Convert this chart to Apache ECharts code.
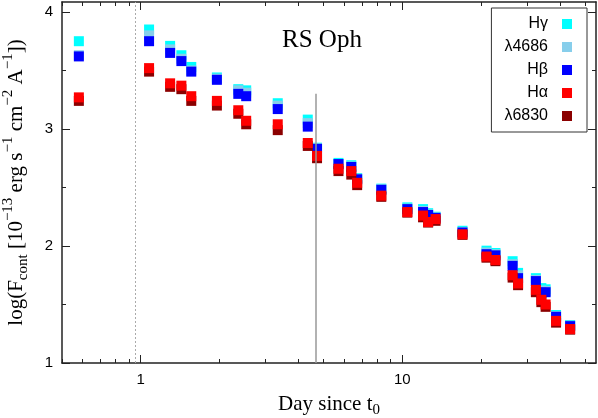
<!DOCTYPE html>
<html>
<head>
<meta charset="utf-8">
<script src="https://cdn.jsdelivr.net/npm/echarts@6/dist/echarts.min.js"></script>
<style>
  html, body { margin: 0; padding: 0; background: #fff; }
  #chart { width: 598px; height: 418px; }
</style>
</head>
<body>
<div id="chart"></div>
<script>
// days since t0
var days = [0.58, 1.076, 1.295, 1.43, 1.56, 1.955, 2.36, 2.53, 3.34, 4.35, 4.72, 5.70, 6.38, 6.72, 8.31,
	10.45, 12.0, 12.55, 13.4, 16.98, 20.98, 22.7, 26.4, 27.7, 32.4, 34.0, 35.3, 38.7, 43.8];
// log of continuum flux, one list per line
var hGamma = [3.75, 3.85, 3.71, 3.63, 3.53, 3.44, 3.34, 3.33, 3.22, 3.08, 2.84, 2.71, 2.69, 2.58, 2.49,
	2.33, 2.315, 2.28, 2.25, 2.13, 1.96, 1.94, 1.87, 1.77, 1.725, 1.64, 1.63, 1.41, 1.325];
var he4686 = [3.63, 3.80, 3.68, 3.60, 3.50, 3.43, 3.33, 3.31, 3.20, 3.05, 2.835, 2.70, 2.68, 2.575, 2.485,
	2.32, 2.30, 2.27, 2.245, 2.12, 1.945, 1.93, 1.845, 1.75, 1.71, 1.62, 1.615, 1.40, 1.32];
var hBeta = [3.62, 3.75, 3.65, 3.58, 3.49, 3.42, 3.30, 3.28, 3.17, 3.02, 2.83, 2.70, 2.675, 2.57, 2.48,
	2.315, 2.29, 2.265, 2.24, 2.115, 1.93, 1.92, 1.83, 1.725, 1.70, 1.60, 1.605, 1.395, 1.315];
var hAlpha = [3.27, 3.52, 3.39, 3.37, 3.28, 3.24, 3.16, 3.07, 3.04, 2.88, 2.77, 2.66, 2.64, 2.54, 2.43,
	2.29, 2.26, 2.205, 2.23, 2.10, 1.91, 1.88, 1.75, 1.68, 1.625, 1.54, 1.50, 1.36, 1.29];
var l6830 = [3.24, 3.49, 3.36, 3.34, 3.24, 3.20, 3.13, 3.04, 2.99, 2.855, 2.75, 2.64, 2.61, 2.52, 2.42,
	2.285, 2.245, 2.20, 2.215, 2.095, 1.90, 1.87, 1.73, 1.665, 1.605, 1.52, 1.48, 1.345, 1.285];

var xMajorTicks = [1, 10];
var xMinorTicks = [0.5, 0.6, 0.7, 0.8, 0.9, 2, 3, 4, 5, 6, 7, 8, 9, 20, 30, 40, 50];
var yMajorTicks = [1, 2, 3, 4];
var yMinorTicks = [1.5, 2.5, 3.5];
var dayMin = 0.5, dayMax = 55;
var fluxMin = 1, fluxMax = 4.085;
var dottedDay = 0.95;
var solidDay = 4.68, solidTop = 3.3;

var lg = function(v) { return Math.log10(v); };

var lines = [
	{ name: 'Hγ', values: hGamma, color: '#00ffff' },
	{ name: 'λ4686', values: he4686, color: '#87ceeb' },
	{ name: 'Hβ', values: hBeta, color: '#0000ff' },
	{ name: 'λ6830', values: l6830, color: '#8b0000' },
	{ name: 'Hα', values: hAlpha, color: '#ff0000' }
];

var myChart = echarts.init(document.getElementById('chart'), null, { renderer: 'canvas' });

var frame = { show: true, onZero: false, lineStyle: { color: '#222', width: 1.5 } };
var noLine = { show: false, onZero: false };

function xAxis(pos, ticks, len, withLabels, withLine) {
	var ax = {
		type: 'value',
		position: pos,
		min: lg(dayMin),
		max: lg(dayMax),
		splitLine: { show: false },
		axisLine: withLine ? frame : noLine,
		axisTick: { inside: true, length: len, lineStyle: { color: '#222', width: 1 },
			customValues: ticks.map(lg) },
		axisLabel: { show: false }
	};
	if (withLabels) {
		ax.axisLabel = {
			show: true, customValues: ticks.map(lg), margin: 9,
			fontFamily: 'Liberation Sans', fontSize: 15, color: '#000',
			formatter: function(v) { return String(Math.round(Math.pow(10, v))); }
		};
		ax.name = '{n|Day since t}{sub|0}';
		ax.nameLocation = 'middle';
		ax.nameGap = 27;
		ax.nameTextStyle = {
			rich: {
				n: { fontFamily: 'Liberation Serif', fontSize: 21, color: '#000', lineHeight: 28 },
				sub: { fontFamily: 'Liberation Serif', fontSize: 15, color: '#000', verticalAlign: 'bottom' }
			}
		};
	}
	return ax;
}

function yAxis(pos, ticks, len, withLabels, withLine) {
	var ax = {
		type: 'value',
		position: pos,
		min: fluxMin,
		max: fluxMax,
		splitLine: { show: false },
		axisLine: withLine ? frame : noLine,
		axisTick: { inside: true, length: len, lineStyle: { color: '#222', width: 1 }, customValues: ticks },
		axisLabel: { show: false }
	};
	if (withLabels) {
		ax.axisLabel = {
			show: true, customValues: ticks, margin: 9,
			fontFamily: 'Liberation Sans', fontSize: 15, color: '#000'
		};
		ax.name = '{n|log(F}{sub|cont}{n| [10}{sup|−13}{n| erg s}{sup|−1}{n| cm}{sup|−2}{n| A}{sup|−1}{n|])}';
		ax.nameLocation = 'middle';
		ax.nameGap = 31;
		ax.nameRotate = 90;
		ax.nameTextStyle = {
			rich: {
				n: { fontFamily: 'Liberation Serif', fontSize: 21, color: '#000', lineHeight: 30 },
				sub: { fontFamily: 'Liberation Serif', fontSize: 15, color: '#000', verticalAlign: 'bottom' },
				sup: { fontFamily: 'Liberation Serif', fontSize: 15, color: '#000', verticalAlign: 'top' }
			}
		};
	}
	return ax;
}

var series = lines.map(function(l) {
	return {
		name: l.name,
		type: 'scatter',
		symbol: 'rect',
		symbolSize: 10,
		itemStyle: { color: l.color, opacity: 1 },
		data: days.map(function(d, i) { return [lg(d), l.values[i]]; }),
		animation: false
	};
});

// dotted line (full height) and solid line (partial)
series[0].markLine = {
	silent: true,
	symbol: 'none',
	label: { show: false },
	animation: false,
	z: 5,
	data: [
		{ xAxis: lg(dottedDay), lineStyle: { color: '#aaa', type: [2, 2], width: 1 } },
		[
			{ coord: [lg(solidDay), fluxMin], lineStyle: { color: '#999', type: 'solid', width: 1.5 } },
			{ coord: [lg(solidDay), solidTop] }
		]
	]
};

var option = {
	backgroundColor: '#fff',
	animation: false,
	title: {
		text: 'RS Oph',
		left: 282,
		top: 28,
		padding: 0,
		textStyle: { fontFamily: 'Liberation Serif', fontSize: 25, fontWeight: 'normal', color: '#000' }
	},
	legend: {
		orient: 'vertical',
		right: 11,
		top: 8,
		align: 'right',
		icon: 'rect',
		itemWidth: 10,
		itemHeight: 10,
		itemGap: 7,
		padding: [8, 15, 8, 13],
		borderColor: '#333',
		borderWidth: 1,
		data: ['Hγ', 'λ4686', 'Hβ', 'Hα', 'λ6830'],
		textStyle: { fontFamily: 'Liberation Sans', fontSize: 16, color: '#000', lineHeight: 15, padding: [0, 9, 0, 0] }
	},
	grid: { left: 62, right: 2, top: 2, bottom: 55, containLabel: false, outerBoundsMode: 'none' },
	xAxis: [
		xAxis('bottom', xMajorTicks, 8, true, true),
		xAxis('bottom', xMinorTicks, 4, false, false),
		xAxis('top', xMajorTicks, 8, false, true),
		xAxis('top', xMinorTicks, 4, false, false)
	],
	yAxis: [
		yAxis('left', yMajorTicks, 8, true, true),
		yAxis('left', yMinorTicks, 4, false, false),
		yAxis('right', yMajorTicks, 8, false, true),
		yAxis('right', yMinorTicks, 4, false, false)
	],
	series: series
};

myChart.setOption(option);
window.addEventListener("resize", function() {
	myChart.resize();
});
</script>
</body>
</html>
